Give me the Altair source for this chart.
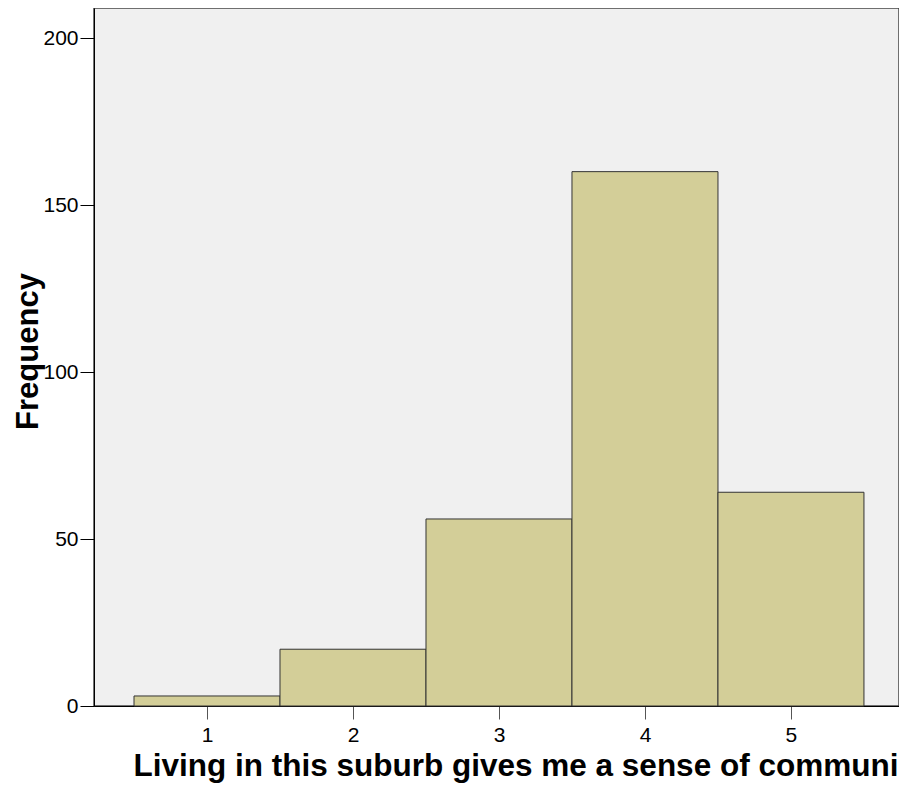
import altair as alt
import pandas as pd

categories = [1, 2, 3, 4, 5]
counts = [3, 17, 56, 160, 64]
y_ticks = [0, 50, 100, 150, 200]
x_ticks = [1, 2, 3, 4, 5]

df = pd.DataFrame({"value": categories, "count": counts})

FONT = "Liberation Sans"

chart = (
    alt.Chart(df)
    .transform_calculate(lo="datum.value - 0.5", hi="datum.value + 0.5")
    .mark_bar(fill="#d3ce98", stroke="#333333", strokeWidth=1)
    .encode(
        x=alt.X(
            "lo:Q",
            scale=alt.Scale(domain=[0.226, 5.74], nice=False, zero=False),
            axis=alt.Axis(
                values=x_ticks,
                title="Living in this suburb gives me a sense of communi",
                titleFont=FONT, titleFontSize=31.5, titleFontWeight="bold",
                titleColor="black", titleAlign="left", titleAnchor="start",
                titleX=39, titleY=69, titleBaseline="alphabetic",
                labelFont=FONT, labelFontSize=21, labelColor="black",
                labelPadding=5, tickSize=13, tickColor="#555",
                domainColor="black", grid=False, labelFlush=False,
            ),
        ),
        x2="hi:Q",
        y=alt.Y(
            "count:Q",
            scale=alt.Scale(domain=[0, 209], nice=False),
            axis=alt.Axis(
                values=y_ticks,
                title="Frequency",
                titleFont=FONT, titleFontSize=31, titleFontWeight="bold",
                titleColor="black", titleAngle=-90, titleAlign="center",
                titleX=-57, titleY=343, titleBaseline="alphabetic",
                labelFont=FONT, labelFontSize=21, labelColor="black",
                labelPadding=2, tickSize=14, tickColor="black",
                domainColor="black", grid=False, labelFlush=False,
            ),
        ),
        y2=alt.datum(0),
    )
    .properties(
        width=805,
        height=698,
        padding={"left": 86, "top": 0, "right": 0, "bottom": 80},
        autosize=alt.AutoSizeParams(type="none"),
        background="white",
    )
    .configure_view(fill="#f0f0f0", stroke="#444", strokeWidth=1.5)
)

chart.save("out.html", embed_options={"renderer": "svg", "actions": False})
